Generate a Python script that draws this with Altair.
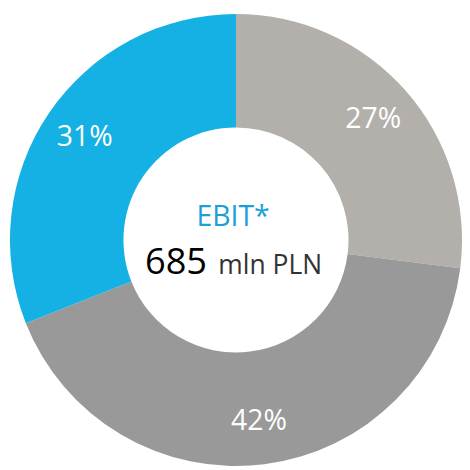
import altair as alt
import pandas as pd

segments = ["A", "B", "C"]
shares = [27, 42, 31]
labels = ["27%", "42%", "31%"]
colors = ["#b3b0ab", "#999999", "#16b1e4"]

df = pd.DataFrame({"segment": segments, "share": shares, "label": labels, "order": [0, 1, 2]})

CX, CY = 233, 232

base = alt.Chart(df).encode(
    theta=alt.Theta("share:Q", stack=True),
    order=alt.Order("order:Q"),
)

arcs = base.mark_arc(outerRadius=231, innerRadius=115, strokeWidth=0).encode(
    color=alt.Color("segment:N", scale=alt.Scale(domain=segments, range=colors), legend=None),
    x=alt.value(CX),
    y=alt.value(CY),
)

text = base.mark_text(radius=187, font="Open Sans", fontSize=29, color="white", baseline="middle", align="center").encode(
    text="label:N",
    x=alt.value(CX),
    y=alt.value(CY),
)

ebit = alt.Chart(pd.DataFrame({"t": ["EBIT*"]})).mark_text(font="Open Sans", fontSize=29, color="#1a9fd8", baseline="middle", align="center").encode(
    text="t:N", x=alt.value(230), y=alt.value(209)
)
val = alt.Chart(pd.DataFrame({"t": ["685"]})).mark_text(font="Open Sans", fontSize=37, color="#000000", baseline="alphabetic", align="left").encode(
    text="t:N", x=alt.value(140), y=alt.value(267)
)
unit = alt.Chart(pd.DataFrame({"t": ["mln PLN"]})).mark_text(font="Open Sans", fontSize=27, color="#333333", baseline="alphabetic", align="left").encode(
    text="t:N", x=alt.value(215), y=alt.value(267)
)

chart = alt.layer(arcs, text, ebit, val, unit).properties(
    width=454, height=450, padding=0
).configure_view(stroke=None)

chart.save("out.html", embed_options={"renderer": "svg", "actions": False})
